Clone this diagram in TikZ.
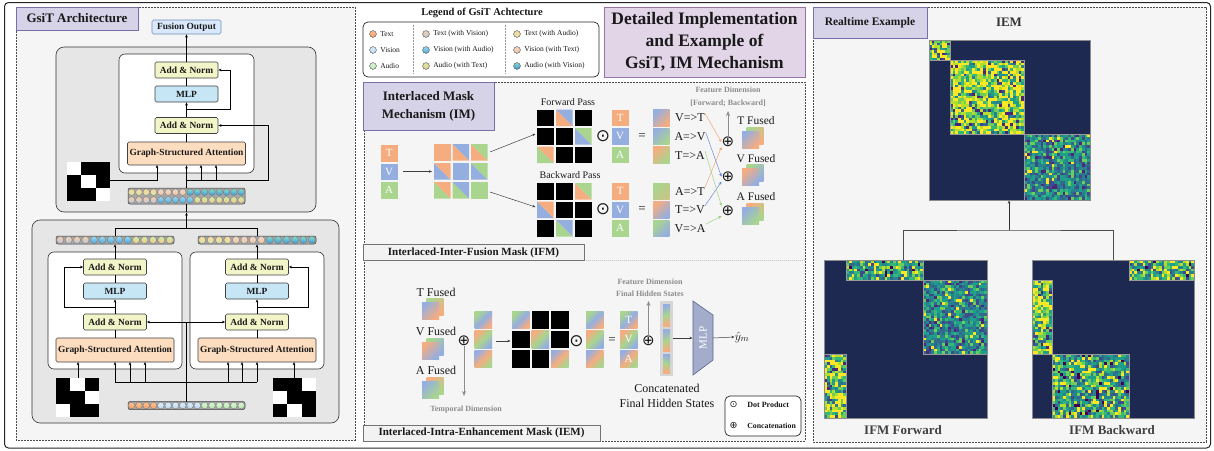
\documentclass[tikz,border=0pt]{standalone}
\usepackage{fontspec}
\setmainfont{Liberation Serif}
\newfontfamily\symf{DejaVu Sans}
\usetikzlibrary{arrows.meta}
\definecolor{cO}{HTML}{F5AD80}
\definecolor{cB}{HTML}{95AEE0}
\definecolor{cG}{HTML}{A9D58E}
\definecolor{panel}{HTML}{F5F5F5}
\definecolor{graybox}{HTML}{E6E6E6}
\definecolor{lav}{HTML}{E1D5E7}
\definecolor{lavd}{HTML}{9673A6}
\definecolor{lav2}{HTML}{D6D3E8}
\definecolor{lav2d}{HTML}{7A6EA6}
\definecolor{anfill}{HTML}{F2F5C8}
\definecolor{mlpfill}{HTML}{C6E6F6}
\definecolor{gsafill}{HTML}{FDDDC0}
\definecolor{fofill}{HTML}{DAE8FC}
\definecolor{fodraw}{HTML}{6C8EBF}
\definecolor{navy}{HTML}{1D2951}
\definecolor{mlpf}{HTML}{A3ADCB}
\definecolor{mlpd}{HTML}{5A6590}
\definecolor{lnO}{HTML}{F2A070}
\definecolor{lnB}{HTML}{5F83D8}
\definecolor{lnG}{HTML}{9BCF80}
% token colours
\definecolor{tokTa}{HTML}{FBC08F}\definecolor{tokTb}{HTML}{F5A26B}
\definecolor{tokVa}{HTML}{DCEEFB}\definecolor{tokVb}{HTML}{B9D9F2}
\definecolor{tokAa}{HTML}{DDF6D6}\definecolor{tokAb}{HTML}{B6E6AE}
\definecolor{tokTVa}{HTML}{F5CFAE}\definecolor{tokTVb}{HTML}{BCC6DA}
\definecolor{tokVAa}{HTML}{9BD7F2}\definecolor{tokVAb}{HTML}{4DA8D6}
\definecolor{tokATa}{HTML}{D6EBA8}\definecolor{tokATb}{HTML}{E8C98E}
\definecolor{tokTAa}{HTML}{F6D9A3}\definecolor{tokTAb}{HTML}{DCE4A8}
\definecolor{tokVTa}{HTML}{F3D8C6}\definecolor{tokVTb}{HTML}{E8C3A6}
\definecolor{tokAVa}{HTML}{86DCCB}\definecolor{tokAVb}{HTML}{3D95D6}
% viridis
\definecolor{v0}{HTML}{440154}\definecolor{v1}{HTML}{482878}
\definecolor{v2}{HTML}{3E4A89}\definecolor{v3}{HTML}{31688E}
\definecolor{v4}{HTML}{26828E}\definecolor{v5}{HTML}{1F9E89}
\definecolor{v6}{HTML}{35B779}\definecolor{v7}{HTML}{6DCD59}
\definecolor{v8}{HTML}{B4DE2C}\definecolor{v9}{HTML}{FDE725}
\newcommand\mkpal[2]{\foreach \pc [count=\pn] in {#2}{\xglobal\colorlet{h#1\pn}{v\pc}}}
\mkpal{A}{9,9,9,9,9,9,8,8,8,7,7,7,6,6,5,5,4,3,2,1}
\mkpal{B}{9,7,7,6,6,5,5,5,5,4,4,4,4,3,3,3,2,2,2,1}
\mkpal{C}{9,9,9,8,8,7,7,6,6,6,5,5,5,4,4,4,3,3,2,0}

\newcommand\heatmap[7]{% x y w h nx ny mode
  \pgfmathsetmacro\hw{#3/#5}\pgfmathsetmacro\hh{#4/#6}%
  \foreach \hi in {1,...,#5}{\foreach \hj in {1,...,#6}{%
    \pgfmathrandominteger{\hr}{1}{20}%
    \fill[h#7\hr] ({#1+(\hi-1)*\hw},{#2+(\hj-1)*\hh}) rectangle ++({\hw+0.05},{\hh+0.05});}}%
  \draw[black!40,line width=0.4pt] (#1,#2) rectangle ++(#3,#4);}
\newcommand\maskgrid[5]{% x y w h whites(row/col)
  \fill[black] (#1,#2) rectangle ++(#3,#4);
  \foreach \mr/\mc in {#5}{\fill[white] ({#1+\mc*#3/3},{#2+\mr*#4/3}) rectangle ++({#3/3},{#4/3});}}
\newcommand\splitc[5]{% x y s lowerleft upperright
  \fill[#4] (#1,#2) -- (#1,#2+#3) -- (#1+#3,#2+#3) -- cycle;
  \fill[#5] (#1,#2) -- (#1+#3,#2) -- (#1+#3,#2+#3) -- cycle;}
\newcommand\tokrow[5]{% x0 y pitch r list
  \foreach \s [count=\k from 0] in {#5}{\path[draw=black!55,line width=0.3pt,top color=tok\s a,bottom color=tok\s b] ({#1+#3/2+\k*#3},#2) circle (#4);}}
\newcommand\gsq[5]{% x y s c1 c2
  \shade[top color=#4,bottom color=#5,shading angle=45] (#1,#2) rectangle ++(#3,#3);}
\newcommand\gtri[6]{% x y s c1 c2 c3
  \shade[top color=#4,bottom color=#6,middle color=#5,shading angle=45] (#1,#2) rectangle ++(#3,#3);}
\newcommand\fsq[6]{% front x y, back c1 c2, front c1 c2
  \shade[top color=#3,bottom color=#4,shading angle=45] (#1+4.5,#2-4) rectangle ++(17,17);
  \shade[top color=#5,bottom color=#6,shading angle=45] (#1,#2) rectangle ++(17,17);}

\begin{document}
\begin{tikzpicture}[x=1pt,y=-1pt,line width=0.6pt,
  >={Stealth[length=3.2pt,width=2.6pt]},
  every node/.style={inner sep=0pt,text=black!90},
  fs/.style={font=\fontsize{#1}{#1}\selectfont},
  bfs/.style={font=\bfseries\fontsize{#1}{#1}\selectfont},
  sym/.style={font=\symf\fontsize{#1}{#1}\selectfont},
  blk/.style={draw=black!75,line width=0.6pt,rounded corners=1.5pt,minimum width=63pt,minimum height=16pt,bfs=9.4},
  anbox/.style={blk,fill=anfill},
  mlpbox/.style={blk,fill=mlpfill},
  gsabox/.style={blk,fill=gsafill,minimum width=118pt,minimum height=23pt},
  fobox/.style={blk,draw=fodraw,fill=fofill,minimum width=69pt,minimum height=14pt},
  dpanel/.style={draw=black!70,dash pattern=on 1.8pt off 1.2pt,line width=0.6pt,fill=panel},
  titlebox/.style={draw=lav2d,fill=lav2,line width=0.6pt},
  graybk/.style={draw=black!80,fill=graybox,rounded corners=8pt,line width=0.6pt},
  whitebk/.style={draw=black!80,fill=white,rounded corners=6pt,line width=0.6pt},
  tbar/.style={draw=black!75,fill=black!35,rounded corners=2pt,line width=0.5pt},
  lbox/.style={draw=black!55,fill=black!5,line width=0.6pt},
  garr/.style={->,draw=black!45,line width=1pt,>={Stealth[length=5pt,width=4pt]}},
  sarr/.style={->,draw=black!75,line width=0.5pt},
  carr/.style={->,draw=#1,line width=0.45pt,>={Stealth[length=3pt,width=3pt]}},
  gtxt/.style={bfs=8,text=black!45},
  wl/.style={fs=11,text=white},
  op/.style={sym=15},
  od/.style={sym=17},
]
\useasboundingbox (0,0) rectangle (1214,450);
\fill[white] (0,0) rectangle (1214,450);
\draw[black!85,line width=1pt,rounded corners=4pt] (4.5,2.5) rectangle (1210.5,448);

%================ LEFT PANEL =================
\draw[dpanel] (16,7) rectangle (355,440);
\node[titlebox,minimum width=122pt,minimum height=23pt,bfs=13] (tl) at (77,18.5) {GsiT Architecture};
% upper block
\draw[graybk] (56,47) rectangle (316,212);
\draw[whitebk] (119,54) rectangle (254,173);
\node[fobox] (fo) at (186.5,27) {Fusion Output};
\node[anbox] (an1) at (186.5,70) {Add \& Norm};
\node[mlpbox] (ml1) at (186.5,94) {MLP};
\node[anbox] (an2) at (186.5,125.5) {Add \& Norm};
\node[gsabox] (gs1) at (186.5,153.5) {Graph-Structured Attention};
\draw[->] (an1.north) -- (fo.south);
\draw (ml1.north) -- (an1.south);
\draw[->] (an2.north) -- (ml1.south);
\draw (gs1.north) -- (an2.south);
\coordinate (r1) at (186.5,109);
\draw[->] (r1) -- (230,109) |- (an1.east);
\maskgrid{67}{162}{43}{39}{0/0,1/1,2/2}
\coordinate (m1) at (110,180);
\draw[->] (m1) -| (157,165);
\coordinate (r2) at (186.5,180);
\draw[->] (r2) -- (268,180) |- (an2.east);
\draw[->] (201,180) -- (201,165);
\draw[->] (216,180) -- (216,165);
\draw[tbar] (128,188) rectangle (245,204);
\draw[->] (186.5,188) -- (gs1.south);
\draw (186.5,204) -- (186.5,212);
\tokrow{128}{192.2}{7.3}{3.3}{TA,TA,TA,TA,VT,VT,VT,VT,AV,AV,AV,AV,AV,AV,AV,AV}
\tokrow{128}{200}{7.3}{3.3}{TV,TV,TV,TV,VA,VA,VA,VA,VA,AT,AT,AT,AT,AT,AT,AT}
% lower block
\draw[graybk] (32,220) rectangle (339,423);
\draw[whitebk] (48,252) rectangle (182,369);
\draw[whitebk] (190,252) rectangle (324,369);
\node[anbox] (an3) at (115,267) {Add \& Norm};
\node[mlpbox] (ml3) at (115,291) {MLP};
\node[anbox] (an4) at (115,322) {Add \& Norm};
\node[gsabox,minimum height=24pt] (gs3) at (115,350) {Graph-Structured Attention};
\node[anbox] (an5) at (257,267) {Add \& Norm};
\node[mlpbox] (ml5) at (257,291) {MLP};
\node[anbox] (an6) at (257,322) {Add \& Norm};
\node[gsabox,minimum height=24pt] (gs5) at (257,350) {Graph-Structured Attention};
\draw (ml3.north) -- (an3.south);
\draw[->] (an4.north) -- (ml3.south);
\draw (gs3.north) -- (an4.south);
\draw (ml5.north) -- (an5.south);
\draw[->] (an6.north) -- (ml5.south);
\draw (gs5.north) -- (an6.south);
\draw[tbar] (56,236) rectangle (174,244);
\draw[tbar] (198,236) rectangle (316,244);
\tokrow{56}{240}{8.43}{3.6}{TV,TV,TV,TV,VA,VA,VA,VA,VA,AT,AT,AT,AT,AT}
\tokrow{198}{240}{8.43}{3.6}{TA,TA,TA,TA,VT,VT,VT,VT,AV,AV,AV,AV,AV,AV}
\draw[->] (an3.north) -- (115,244.3);
\draw[->] (an5.north) -- (257,244.3);
\draw (115,236) -- (115,228) -- (257,228) -- (257,236);
\draw[->] (186.5,228) -- (186.5,212.5);
\coordinate (r3) at (115,307);
\coordinate (r5) at (257,307);
\draw[->] (r3) -- (64,307) |- (an3.west);
\draw[->] (r5) -- (308,307) |- (an5.east);
\draw[<->] (an4.east) -- (an6.west);
\draw[tbar] (128,401.5) rectangle (245,409.5);
\tokrow{128}{405.5}{7.3}{3.3}{T,T,T,T,V,V,V,V,V,V,A,A,A,A,A,A}
\draw (186.5,401.5) -- (186.5,322);
\draw (115,382) -- (257,382);
\foreach \xx in {115,130,145}{\draw[->] (\xx,382) -- (\xx,362);}
\foreach \xx in {228,242,257}{\draw[->] (\xx,382) -- (\xx,362);}
\maskgrid{56}{378}{43}{39}{0/1,1/2,2/0}
\maskgrid{273}{378}{43}{39}{0/2,1/0,2/1}
\draw[->] (78,378) -- (78,362);
\draw[->] (294,378) -- (294,362);

%================ LEGEND & TITLE =================
\node[bfs=10.5] (lgt) at (482,12.5) {Legend of GsiT Achtecture};
\draw[black!85,fill=white,rounded corners=5pt,line width=0.7pt] (363,22) rectangle (599,77);
\draw[black!40,dash pattern=on 1.5pt off 1.5pt,line width=0.5pt] (413,25) -- (413,74);
\draw[black!40,dash pattern=on 1.5pt off 1.5pt,line width=0.5pt] (505,25) -- (505,74);
\foreach \k/\lab/\yy in {T/Text/34,V/Vision/50,A/Audio/66}{
  \path[draw=black!70,line width=0.4pt,top color=tok\k a,bottom color=tok\k b] (373,\yy) circle (3.4);
  \node[anchor=west,fs=7.5] (lg\k) at (380,\yy) {\lab};}
\foreach \k/\lab/\yy in {TV/Text (with Vision)/34,VA/Vision (with Audio)/50,AT/Audio (with Text)/66}{
  \path[draw=black!70,line width=0.4pt,top color=tok\k a,bottom color=tok\k b] (426,\yy) circle (3.4);
  \node[anchor=west,fs=7.5] (lg\k) at (433,\yy) {\lab};}
\foreach \k/\lab/\yy in {TA/Text (with Audio)/34,VT/Vision (with Text)/50,AV/Audio (with Vision)/66}{
  \path[draw=black!70,line width=0.4pt,top color=tok\k a,bottom color=tok\k b] (517,\yy) circle (3.4);
  \node[anchor=west,fs=7.5] (lg\k) at (524,\yy) {\lab};}
\node[draw=lavd,fill=lav,line width=0.7pt,minimum width=201pt,minimum height=70pt,align=center,
  font=\bfseries\fontsize{17.5}{22}\selectfont] (title) at (704.5,42) {Detailed Implementation\\and Example of\\GsiT, IM Mechanism};

%================ MIDDLE PANEL =================
\draw[dpanel] (364,82) rectangle (805,441);
\node[titlebox,minimum width=131pt,minimum height=48pt,align=center,font=\bfseries\fontsize{13}{18}\selectfont] (imt) at (428.5,106) {Interlaced Mask\\Mechanism (IM)};
% T V A input
\fill[cO] (381,145) rectangle ++(16.5,16.5); \node[wl] (iT) at (389.2,153.2) {T};
\fill[cB] (381,163.5) rectangle ++(16.5,16.5); \node[wl] (iV) at (389.2,171.7) {V};
\fill[cG] (381,182) rectangle ++(16.5,16.5); \node[wl] (iA) at (389.2,190.2) {A};
\draw[sarr] (403,171.5) -- (432,171.5);
% IM matrix
\fill[cO] (434,144) rectangle ++(16.5,16.5);
\splitc{452.5}{144}{16.5}{cO}{cB}
\splitc{471}{144}{16.5}{cO}{cG}
\splitc{434}{163}{16.5}{cB}{cO}
\fill[cB] (452.5,163) rectangle ++(16.5,16.5);
\splitc{471}{163}{16.5}{cB}{cG}
\splitc{434}{182}{16.5}{cG}{cO}
\splitc{452.5}{182}{16.5}{cG}{cB}
\fill[cG] (471,182) rectangle ++(16.5,16.5);
\coordinate (imR1) at (490,152);
\coordinate (imR2) at (490,192);
\coordinate (fwL) at (535.5,134);
\coordinate (bwL) at (535.5,207);
\draw[sarr] (imR1) -- (fwL);
\draw[sarr] (imR2) -- (bwL);
% forward
\node[fs=10] (fwp) at (568,102) {Forward Pass};
\fill[black] (537,109.5) rectangle ++(16.5,16.5);
\splitc{556}{109.5}{16.5}{cO}{cB}
\fill[black] (575,109.5) rectangle ++(16.5,16.5);
\fill[black] (537,128) rectangle ++(16.5,16.5);
\fill[black] (556,128) rectangle ++(16.5,16.5);
\splitc{575}{128}{16.5}{cB}{cG}
\splitc{537}{146.5}{16.5}{cG}{cO}
\fill[black] (556,146.5) rectangle ++(16.5,16.5);
\fill[black] (575,146.5) rectangle ++(16.5,16.5);
% backward
\node[fs=10] (bwp) at (570,175.5) {Backward Pass};
\fill[black] (537,183) rectangle ++(16.5,16.5);
\fill[black] (556,183) rectangle ++(16.5,16.5);
\splitc{575}{183}{16.5}{cO}{cG}
\splitc{537}{201.5}{16.5}{cB}{cO}
\fill[black] (556,201.5) rectangle ++(16.5,16.5);
\fill[black] (575,201.5) rectangle ++(16.5,16.5);
\fill[black] (537,220) rectangle ++(16.5,16.5);
\splitc{556}{220}{16.5}{cG}{cB}
\fill[black] (575,220) rectangle ++(16.5,16.5);
\node[od] (od1) at (603,136.5) {⊙};
\node[od] (od2) at (603,209.5) {⊙};
\foreach \yy/\cc/\ll in {109.5/cO/T,128/cB/V,146.5/cG/A}{
  \fill[\cc] (612,\yy) rectangle ++(16.5,16.5); \node[wl] (f\ll) at (620.2,\yy+8.2) {\ll};}
\foreach \yy/\cc/\ll in {183/cO/T,201.5/cB/V,220/cG/A}{
  \fill[\cc] (612,\yy) rectangle ++(16.5,16.5); \node[wl] (b\ll) at (620.2,\yy+8.2) {\ll};}
\node[fs=13] (eq1) at (642,136.5) {=};
\node[fs=13] (eq2) at (642,209.5) {=};
\gsq{653}{109.5}{16.5}{cB}{cO}
\gsq{653}{128}{16.5}{cB}{cG}
\gsq{653}{146.5}{16.5}{cO}{cG}
\gsq{653}{183}{16.5}{cG}{cG!60!cO}
\gsq{653}{201.5}{16.5}{cO}{cB}
\gsq{653}{220}{16.5}{cG}{cB}
\node[fs=12] (lVT) at (690,118) {V=>T};
\node[fs=12] (lAV) at (690,137) {A=>V};
\node[fs=12] (lTA) at (690,155.5) {T=>A};
\node[fs=12] (lAT) at (690,191.5) {A=>T};
\node[fs=12] (lTV) at (690,210) {T=>V};
\node[fs=12] (lVA) at (690,228.5) {V=>A};
\node[op] (opT) at (728,142) {⊕};
\node[op] (opV) at (728,176.5) {⊕};
\node[op] (opA) at (728,211) {⊕};
\draw[carr=lnO] (lVT.north east) -- (opT.west);
\draw[carr=lnO] (lAT.north east) -- (opT.south west);
\draw[carr=lnB] (lAV.north east) -- (opV.west);
\draw[carr=lnB] (lTV.north east) -- (opV.south west);
\draw[carr=lnG] (lTA.north east) -- (opA.north west);
\draw[carr=lnG] (lVA.north east) -- (opA.south west);
\coordinate (fdT) at (728,111);
\draw[garr] (opT.north) -- (fdT);
\node[gtxt] (fd1) at (728,90) {Feature Dimension};
\node[gtxt] (fd2) at (728,103.5) {[Forward; Backward]};
\node[fs=11.5] (tF) at (756,120.5) {T Fused};
\node[fs=11.5] (vF) at (756,158.5) {V Fused};
\node[fs=11.5] (aF) at (756,197) {A Fused};
\fsq{742}{131}{cG}{cO}{cB}{cO}
\fsq{742}{168}{cG}{cB}{cO}{cB}
\fsq{742}{207}{cO}{cG}{cB}{cG}
% IFM label
\node[lbox,minimum width=221pt,minimum height=15.5pt,bfs=11] (ifm) at (473.5,252.5) {Interlaced-Inter-Fusion Mask (IFM)};
\draw[black!45,dash pattern=on 0.8pt off 1.2pt,line width=0.5pt] (ifm.south east) -- (805,260.25);
% IEM section
\node[fs=12] (tF2) at (436,292) {T Fused};
\node[fs=12] (vF2) at (436,331) {V Fused};
\node[fs=12] (aF2) at (436,370) {A Fused};
\fsq{422}{302}{cG}{cO}{cB}{cO}
\fsq{422}{342}{cG}{cB}{cO}{cB}
\fsq{422}{381}{cO}{cG}{cB}{cG}
\node[op] (opI) at (464,341) {⊕};
\coordinate (tdE) at (464,396);
\draw[garr] (opI.south) -- (tdE);
\node[gtxt] (tdim) at (466,410) {Temporal Dimension};
\gtri{474.5}{311}{17.5}{cG}{cB}{cO}
\gtri{474.5}{330.5}{17.5}{cO}{cG}{cB}
\gtri{474.5}{350}{17.5}{cB}{cO}{cG}
\coordinate (c1R) at (496,341);
\coordinate (mxL) at (510.5,341);
\draw[sarr] (c1R) -- (mxL);
\gtri{512}{311}{17.5}{cG}{cB}{cO}
\fill[black] (531.5,311) rectangle ++(17.5,17.5);
\fill[black] (551,311) rectangle ++(17.5,17.5);
\fill[black] (512,330.5) rectangle ++(17.5,17.5);
\gtri{531.5}{330.5}{17.5}{cO}{cG}{cB}
\fill[black] (551,330.5) rectangle ++(17.5,17.5);
\fill[black] (512,350) rectangle ++(17.5,17.5);
\fill[black] (531.5,350) rectangle ++(17.5,17.5);
\gtri{551}{350}{17.5}{cB}{cO}{cG}
\node[od] (od3) at (576.5,341) {⊙};
\gtri{586}{311}{17.5}{cG}{cB}{cO}
\gtri{586}{330.5}{17.5}{cO}{cG}{cB}
\gtri{586}{350}{17.5}{cB}{cO}{cG}
\node[fs=13] (eq3) at (612,341) {=};
\gtri{620}{311}{17.5}{cG}{cB}{cO}
\gtri{620}{330.5}{17.5}{cO}{cG}{cB}
\gtri{620}{350}{17.5}{cB}{cO}{cG}
\node[wl] (hT) at (628.7,319.7) {T};
\node[wl] (hV) at (628.7,339.2) {V};
\node[wl] (hA) at (628.7,358.7) {A};
\node[op] (opH) at (648.5,341) {⊕};
\coordinate (fdH) at (648.5,301);
\draw[garr] (opH.north) -- (fdH);
\node[gtxt] (fh1) at (650,282) {Feature Dimension};
\node[gtxt] (fh2) at (650,293.5) {Final Hidden States};
\fill[black!16] (660,301) rectangle (673,376);
\shade[top color=cB,bottom color=cO,middle color=cG,shading angle=20] (663,304) rectangle (670,326);
\shade[top color=cB,bottom color=cO,middle color=cG,shading angle=20] (663,329) rectangle (670,351);
\shade[top color=cB,bottom color=cO,middle color=cG,shading angle=-20] (663,354) rectangle (670,373);
\path[draw=mlpd,fill=mlpf,line width=0.6pt] (693,301) -- (713,315) -- (713,360) -- (693,375) -- cycle;
\node[fs=11,text=white,rotate=90] (mlpL) at (703,338) {MLP};
\coordinate (cbR) at (673,338);
\coordinate (mlpW) at (692.5,338);
\coordinate (mlpE) at (713,338);
\node[fs=13] (yhat) at (742,337) {$\hat{y}_m$};
\draw[sarr] (cbR) -- (mlpW);
\draw[sarr] (mlpE) -- (yhat.west);
\node[align=center,font=\fontsize{12}{15}\selectfont] (cfh) at (667,395.5) {Concatenated\\Final Hidden States};
\draw[black!85,fill=white,rounded corners=5pt,line width=0.7pt] (725,396) rectangle (801,436);
\node[sym=9.5] (lgdot) at (733.5,405) {⊙};
\node[sym=9.5] (lgplus) at (733.5,426) {⊕};
\node[anchor=west,bfs=8] (lgd) at (747,405) {Dot Product};
\node[anchor=west,bfs=7.8] (lgc) at (747,426) {Concatenation};
\node[lbox,minimum width=237pt,minimum height=16pt,bfs=11] (iem) at (481.5,433) {Interlaced-Intra-Enhancement Mask (IEM)};

%================ RIGHT PANEL =================
\draw[dpanel] (813,7) rectangle (1206,442);
\node[titlebox,minimum width=114pt,minimum height=31pt,bfs=11.5] (rt) at (870,22.5) {Realtime Example};
\node[bfs=13,text=black!80] (liem) at (1009,22) {IEM};
\pgfmathsetseed{7}
\fill[navy] (929,40) rectangle (1090,200);
\heatmap{929}{40}{21}{20}{8}{8}{A}
\heatmap{950}{60}{74}{74}{27}{27}{A}
\heatmap{1024}{134}{66}{66}{24}{24}{B}
\draw[black!45,line width=0.5pt] (929,40) rectangle (1090,200);
\fill[navy] (824,260) rectangle (987,418);
\heatmap{846}{260}{77}{20}{28}{7}{C}
\heatmap{923}{280}{64}{74}{23}{27}{B}
\heatmap{824}{354}{22}{64}{8}{23}{A}
\draw[black!45,line width=0.5pt] (824,260) rectangle (987,418);
\fill[navy] (1032,260) rectangle (1194,418);
\heatmap{1129}{260}{65}{20}{24}{7}{C}
\heatmap{1032}{280}{20}{74}{7}{27}{A}
\heatmap{1052}{354}{77}{64}{28}{23}{C}
\draw[black!45,line width=0.5pt] (1032,260) rectangle (1194,418);
\coordinate (iemS) at (1009,200.5);
\coordinate (fwdN) at (903,260);
\coordinate (bwdN) at (1113,260);
\coordinate (jn) at (1009,230);
\draw[black!70,line width=0.6pt] (fwdN) |- (jn) -| (bwdN);
\draw[->,black!80,line width=0.6pt] (jn) -- (iemS);
\node[bfs=13,text=black!75] (lfw) at (903,430) {IFM Forward};
\node[bfs=13,text=black!75] (lbw) at (1112,430) {IFM Backward};
\end{tikzpicture}
\end{document}
